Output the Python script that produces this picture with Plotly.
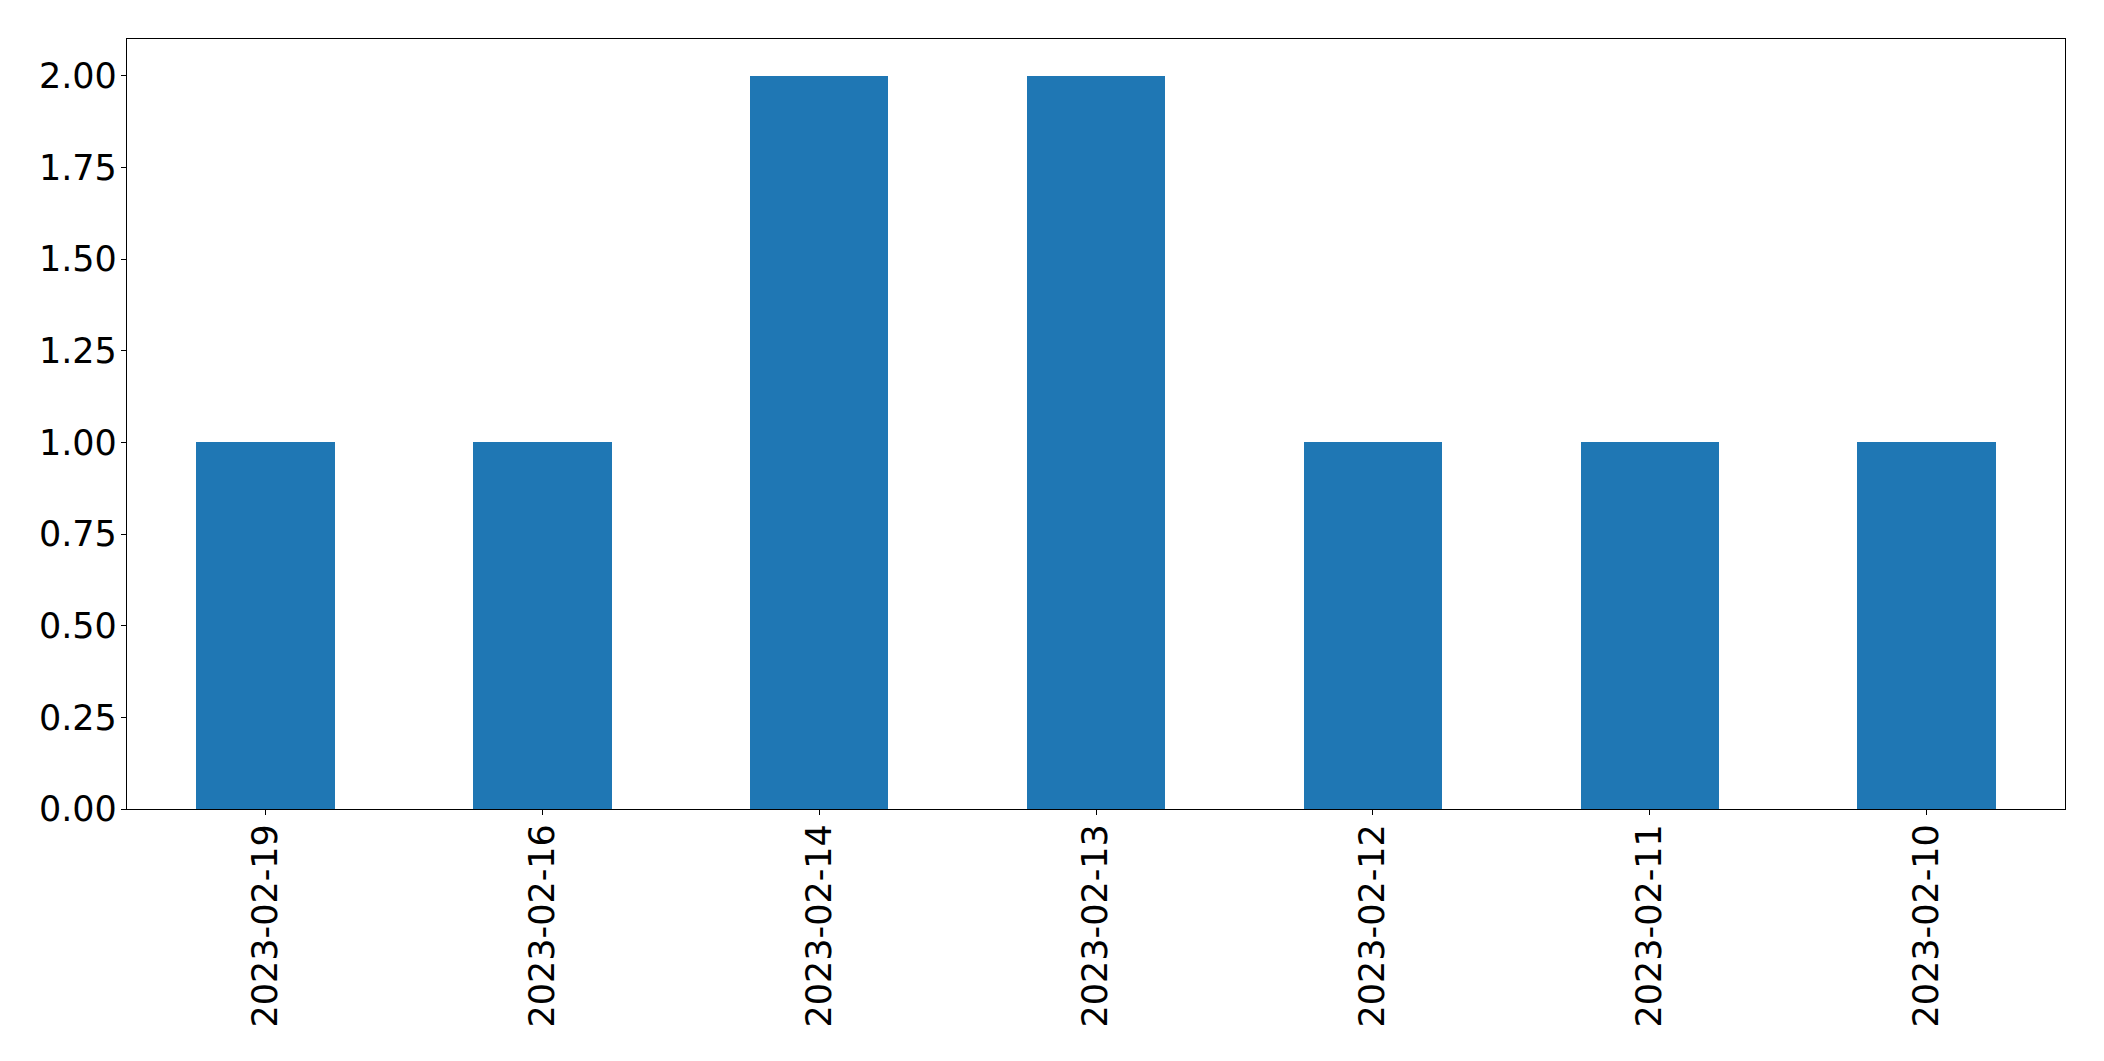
import plotly.graph_objects as go

dates = ['2023-02-19', '2023-02-16', '2023-02-14', '2023-02-13',
         '2023-02-12', '2023-02-11', '2023-02-10']
counts = [1, 1, 2, 2, 1, 1, 1]

y_ticks = [0, 0.25, 0.5, 0.75, 1.0, 1.25, 1.5, 1.75, 2.0]

fig = go.Figure(go.Bar(
    x=dates,
    y=counts,
    width=0.5,
    marker=dict(color='#1f77b4', line=dict(width=0)),
))

axis_style = dict(
    showline=True,
    linecolor='black',
    linewidth=1.3,
    mirror=True,
    ticks='outside',
    ticklen=5,
    tickwidth=1.3,
    tickcolor='black',
    showgrid=False,
    zeroline=False,
    tickfont=dict(family='DejaVu Sans', size=35, color='black'),
)

# page body adds an 8px offset, so margins are shifted to compensate
fig.update_layout(
    width=2104,
    height=1061,
    margin=dict(l=119, r=47, t=31, b=260),
    paper_bgcolor='white',
    plot_bgcolor='white',
    showlegend=False,
    bargap=0,
)
fig.update_xaxes(type='category', range=[-0.5, 6.5], tickangle=-90,
                 ticklabelstandoff=-5, **axis_style)
fig.update_yaxes(range=[0, 2.1], tickvals=y_ticks, tickformat='.2f',
                 ticklabelstandoff=-3, **axis_style)

fig.write_html("out.html")
